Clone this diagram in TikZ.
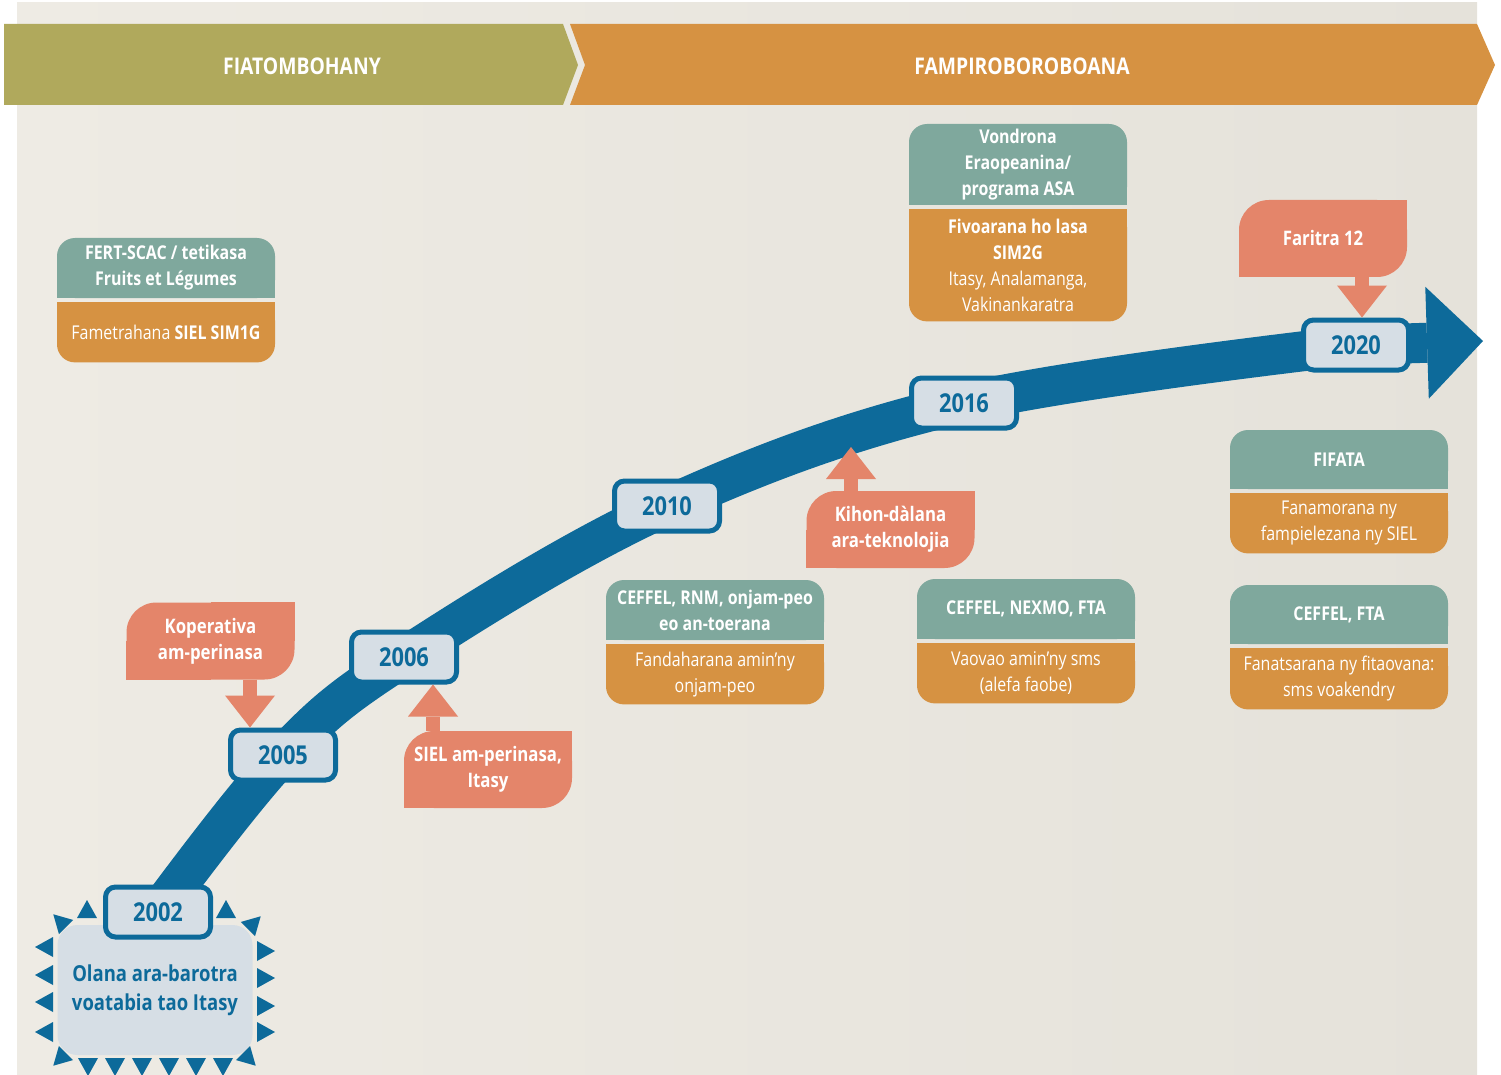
\documentclass[tikz,border=0pt]{standalone}
\usepackage{fontspec}
\setmainfont{Open Sans}[FakeStretch=0.84]
\usetikzlibrary{positioning,arrows.meta}

\definecolor{bandblue}{HTML}{0D6A9A}
\definecolor{yearfill}{HTML}{D6DEE5}
\definecolor{headteal}{HTML}{7FA89D}
\definecolor{bodyorange}{HTML}{D69242}
\definecolor{notesalmon}{HTML}{E4856A}
\definecolor{phaseolive}{HTML}{B0A95C}
\definecolor{paperlight}{HTML}{EEEBE4}
\definecolor{paperdark}{HTML}{E5E2DA}

\pgfdeclarelayer{paper}
\pgfdeclarelayer{under}
\pgfsetlayers{paper,under,main}

\tikzset{
  yearbox/.style={draw=bandblue, line width=5pt, fill=yearfill, rounded corners=10pt,
    minimum width=105pt, minimum height=50pt, text=bandblue,
    font=\bfseries\fontsize{26}{30}\selectfont},
  headbox/.style={fill=headteal, rounded corners=18pt, minimum width=218pt, inner sep=0pt,
    text=white, align=center, font=\bfseries\fontsize{19}{26}\selectfont},
  bodybox/.style={fill=bodyorange, rounded corners=18pt, minimum width=218pt, inner sep=0pt,
    text=white, align=center, font=\fontsize{19}{26}\selectfont},
  notebox/.style={fill=notesalmon, rounded corners=30pt, minimum width=168pt, minimum height=77pt,
    inner sep=0pt, text=white, align=center, font=\bfseries\fontsize{20}{26}\selectfont},
  notearrow/.style={draw=notesalmon, line width=14pt,
    -{Triangle[length=32pt,width=50pt,line width=0pt]}},
  phase/.style={text=white, font=\bfseries\fontsize{23}{28}\selectfont},
  spike/.style={fill=bandblue},
}

\begin{document}
\begin{tikzpicture}[x=1pt, y=-1pt]
    \useasboundingbox (0,0) rectangle (1501,1075);
    \begin{pgfonlayer}{paper}
        \shade[left color=paperlight, right color=paperdark] (17,3) rectangle (1477,1075);
        \fill[phaseolive] (4,24) -- (563,24) -- (578,65) -- (563,105) -- (4,105) -- cycle;
        \fill[bodyorange] (570,24) -- (1477,24) -- (1495,65) -- (1477,105) -- (570,105) -- (585,65) -- cycle;
    \end{pgfonlayer}

    \node[phase] (phaseone) at (302,66) {FIATOMBOHANY};
    \node[phase] (phasetwo) at (1022,66) {FAMPIROBOROBOANA};

    % 2002 starting point
    \node[fill=yearfill, rounded corners=20pt, minimum width=195pt, minimum height=130pt,
        text=bandblue, align=center, font=\bfseries\fontsize{22}{29}\selectfont]
        (olana) at (155,990) {Olana ara-barotra\\voatabia tao Itasy};
    \foreach \x/\y/\a in {53/947/180, 53/975/180, 53/1002/180, 53/1032/180,
                          257/951/0, 257/978/0, 257/1006/0, 257/1032/0,
                          88/1058/270, 115/1058/270, 142/1058/270, 169/1058/270, 196/1058/270, 223/1058/270,
                          87/918/90, 226/918/90,
                          66/927/135, 248/929/45, 66/1053/225, 243/1053/315}
        \fill[spike, shift={(\x,\y)}, rotate=\a] (0,-10) -- (18,0) -- (0,10) -- cycle;

    \node[yearbox] (y2002) at (158,912) {2002};
    \node[yearbox] (y2005) at (283,755) {2005};
    \node[yearbox] (y2006) at (404,657) {2006};
    \node[yearbox] (y2010) at (667,506) {2010};
    \node[yearbox] (y2016) at (964,403) {2016};
    \node[yearbox] (y2020) at (1356,345) {2020};
    \coordinate (bandtip) at (1483,341);
    \coordinate (bandedge) at (851,447);

    \begin{pgfonlayer}{under}
        \draw[bandblue, line width=40pt, -{Triangle[length=56pt,width=112pt,line width=0pt]}]
            plot[smooth, tension=0.6] coordinates {(y2002.center) (y2005.center) (y2006.center)
                (y2010.center) (y2016.center) (y2020.center)} -- (bandtip);
    \end{pgfonlayer}

    % actors and actions
    \node[headbox, minimum height=60pt] (ferthead) at (166,268) {FERT-SCAC / tetikasa\\Fruits et Légumes};
    \node[bodybox, minimum height=60pt, below=4pt of ferthead] (fertbody) {Fametrahana \textbf{SIEL SIM1G}};

    \node[headbox, minimum height=81pt] (asahead) at (1018,164.5) {Vondrona\\Eraopeanina/\\programa ASA};
    \node[bodybox, minimum height=112pt, below=4pt of asahead] (asabody)
        {\textbf{Fivoarana ho lasa}\\\textbf{SIM2G}\\Itasy, Analamanga,\\Vakinankaratra};

    \node[headbox, minimum height=59pt] (fifatahead) at (1339,459.5) {FIFATA};
    \node[bodybox, minimum height=60pt, below=4pt of fifatahead] (fifatabody) {Fanamorana ny\\fampielezana ny SIEL};

    \node[headbox, minimum height=59pt] (ftahead) at (1339,614.5) {CEFFEL, FTA};
    \node[bodybox, minimum height=61pt, below=4pt of ftahead] (ftabody) {Fanatsarana ny fitaovana:\\sms voakendry};

    \node[headbox, minimum height=60pt] (rnmhead) at (715,610) {CEFFEL, RNM, onjam-peo\\eo an-toerana};
    \node[bodybox, minimum height=60pt, below=4pt of rnmhead] (rnmbody) {Fandaharana amin'ny\\onjam-peo};

    \node[headbox, minimum height=60pt] (nexmohead) at (1026,609) {CEFFEL, NEXMO, FTA};
    \node[bodybox, minimum height=60pt, below=4pt of nexmohead] (nexmobody) {Vaovao amin'ny sms\\(alefa faobe)};

    % notes
    \node[notebox] (koperativa) at (210.5,641) {Koperativa\\am-perinasa};
    \node[notebox] (siel) at (488,769.5) {SIEL am-perinasa,\\Itasy};
    \node[notebox] (kihon) at (890.5,529.5) {Kihon-dàlana\\ara-teknolojia};
    \node[notebox] (faritra) at (1323,238.5) {Faritra 12};

    \draw[notearrow] ([xshift=39.5]koperativa.south) -- ([xshift=39.5]koperativa.south |- y2005.north);
    \draw[notearrow] ([xshift=-55]siel.north) -- ([xshift=-55]siel.north |- y2006.south);
    \draw[notearrow] ([xshift=-39.5]kihon.north) -- ([xshift=-39.5]kihon.north |- bandedge);
    \draw[notearrow] ([xshift=39]faritra.south) -- ([xshift=39]faritra.south |- y2020.north);

    \begin{pgfonlayer}{under}
        \foreach \n in {fert,asa,fifata,fta,rnm,nexmo} {
            \fill[headteal] (\n head.west) rectangle (\n head.south east);
            \fill[bodyorange] (\n body.north west) rectangle (\n body.east);
        }
        \foreach \n in {koperativa,siel,kihon,faritra} {
            \fill[notesalmon] (\n.center) rectangle (\n.north east);
            \fill[notesalmon] (\n.center) rectangle (\n.south west);
        }
    \end{pgfonlayer}
\end{tikzpicture}
\end{document}
